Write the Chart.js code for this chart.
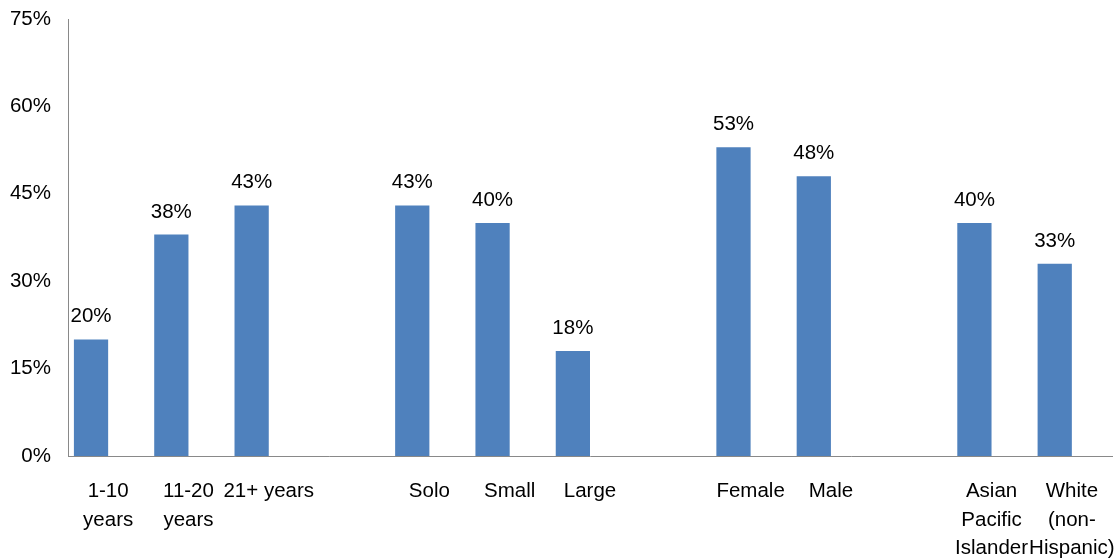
<!DOCTYPE html>
<html>
<head>
<meta charset="utf-8">
<script src="https://cdn.jsdelivr.net/npm/chart.js@4/dist/chart.umd.min.js"></script>
<style>
  html, body { margin: 0; padding: 0; background: #fff; }
  #wrap { width: 1118px; height: 559px; }
</style>
</head>
<body>
<div id="wrap"><canvas id="myChart" width="1118" height="559"></canvas></div>
<script>
// categories, with blank slots separating the groups
const categories = [
    ["1-10", "years"], ["11-20", "years"], "21+ years", "",
    "Solo", "Small", "Large", "",
    "Female", "Male", "",
    ["Asian", "Pacific", "Islander"], ["White", "(non-", "Hispanic)"]
];
const shares = [20, 38, 43, null, 43, 40, 18, null, 53, 48, null, 40, 33];
// second series is empty, it only holds the right half of each slot
const emptySeries = categories.map(() => null);
const yTicks = [0, 15, 30, 45, 60, 75];

const axisColor = "#898989";
const textFont = { family: "'Liberation Sans', Arial, sans-serif", size: 20.5 };

// value labels above the bars
const barLabels = {
    id: "barLabels",
    afterDatasetsDraw(chart) {
        const ctx = chart.ctx;
        const meta = chart.getDatasetMeta(0);
        ctx.save();
        ctx.font = "20.5px 'Liberation Sans', Arial, sans-serif";
        ctx.fillStyle = "#000";
        ctx.textAlign = "center";
        ctx.textBaseline = "alphabetic";
        meta.data.forEach((bar, i) => {
            const v = shares[i];
            if (v === null) return;
            ctx.fillText(v + "%", bar.x, bar.y - 17);
        });
        ctx.restore();
    }
};

const ctx = document.getElementById("myChart").getContext("2d");
const myChart = new Chart(ctx, {
    type: "bar",
    data: {
        labels: categories,
        datasets: [{
            data: shares,
            backgroundColor: "#4F81BD",
            borderWidth: 0,
            barPercentage: 1,
            categoryPercentage: 0.853
        }, {
            data: emptySeries,
            backgroundColor: "#C0504D",
            barPercentage: 1,
            categoryPercentage: 0.853
        }]
    },
    options: {
        responsive: false,
        animation: false,
        layout: { padding: { top: 19, right: 6, left: 0, bottom: 0 } },
        plugins: {
            legend: { display: false },
            tooltip: { enabled: false }
        },
        scales: {
            x: {
                grid: { display: false, drawTicks: false },
                border: { color: axisColor, width: 1 },
                ticks: {
                    color: "#000",
                    font: { ...textFont, lineHeight: 1.4 },
                    padding: 21,
                    maxRotation: 0,
                    autoSkip: false
                },
                afterFit(scale) {
                    scale.height = 103;
                    scale.paddingLeft = 0;
                    scale.paddingRight = 0;
                }
            },
            y: {
                min: 0,
                max: 75,
                afterBuildTicks(scale) {
                    scale.ticks = yTicks.map(v => ({ value: v }));
                },
                grid: { display: false, drawTicks: false },
                border: { color: axisColor, width: 1 },
                ticks: {
                    color: "#000",
                    font: textFont,
                    padding: 17,
                    callback: v => v + "%"
                },
                afterFit(scale) {
                    scale.width = 68;
                    scale.paddingTop = 0;
                    scale.paddingBottom = 0;
                }
            }
        }
    },
    plugins: [barLabels]
});
</script>
</body>
</html>
